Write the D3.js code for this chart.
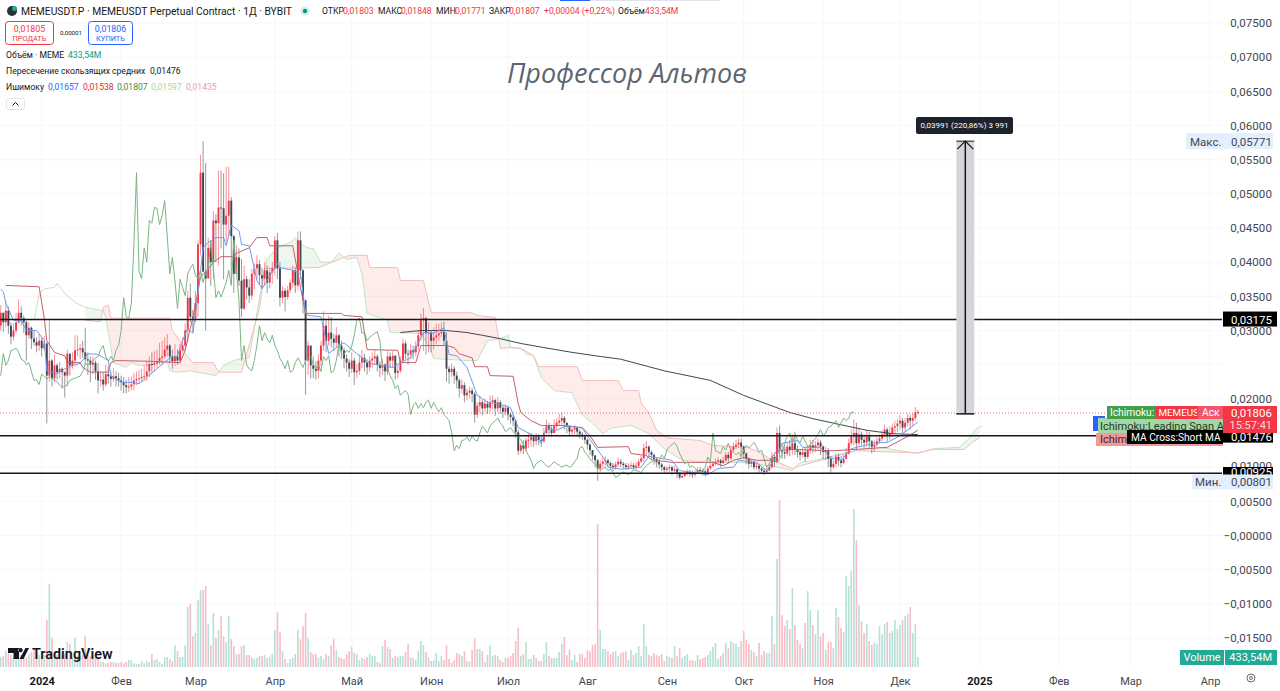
<!DOCTYPE html>
<html>
<head>
<meta charset="utf-8">
<script src="https://d3js.org/d3.v7.min.js"></script>
<style>
  html, body { margin: 0; padding: 0; background: #fff; }
  svg { display: block; }
  text { font-family: Roboto, "Noto Sans", sans-serif; }
</style>
</head>
<body>
<svg id="chart" width="1280" height="691"></svg>
<script>
// prices below are in units of 0.0001 USDT, one value per daily bar, first bar 16 Dec 2023
const priceUnit = 1e-4;
const firstDay = Date.UTC(2023, 11, 16);
const firstOpen = 307;

const closes = [
  326,312,329,307,291,300,312,326,318,312,
  293,304,288,283,278,285,274,281,234,256,
  230,249,239,244,239,234,266,249,256,271,
  272,274,268,258,256,250,253,240,227,228,
  221,236,233,229,233,230,227,225,220,217,
  218,221,227,229,230,232,233,240,251,250,
  252,255,260,262,272,278,262,255,262,256,
  271,278,300,348,320,318,340,426,531,386,
  376,421,400,461,457,480,479,455,468,490,
  438,383,407,373,332,375,363,351,383,391,
  397,381,376,388,370,385,391,432,391,348,
  358,349,359,370,388,366,432,388,344,256,
  278,249,244,241,256,278,307,285,297,288,
  282,293,278,271,259,253,244,256,239,241,
  253,260,253,246,256,259,262,250,245,250,
  240,262,256,263,238,241,256,281,266,265,
  271,268,277,293,315,318,296,297,285,290,
  293,296,298,285,244,239,244,234,227,215,
  220,205,209,212,207,177,190,195,186,193,
  187,195,198,186,195,187,181,187,177,173,
  168,151,124,132,127,139,140,144,138,145,
  140,138,150,160,155,150,160,165,168,172,
  165,160,152,155,158,152,148,145,140,133,
  125,117,110,98,105,108,110,106,102,100,
  104,108,105,103,100,102,103,100,102,108,
  113,128,130,122,118,112,108,104,100,96,
  98,100,95,97,92,85,87,90,93,91,
  89,92,96,95,94,92,98,102,105,108,
  110,106,110,118,113,125,130,133,136,130,
  120,112,105,108,100,102,98,95,93,95,
  100,115,108,150,124,122,120,130,125,135,
  125,122,118,122,115,125,132,128,132,136,
  130,122,125,112,100,105,115,110,106,112,
  120,135,145,150,135,148,140,136,145,138,
  130,133,138,142,148,155,146,150,158,160,
  164,168,158,165,172,168,172,180.3,180.7
];

const highs = [
  337,326,343,335,312,311,326,345,335,322,
  315,312,306,300,290,295,290,292,283,315,
  258,264,252,254,246,240,272,262,268,293,
  293,280,285,304,268,262,262,256,252,240,
  238,250,248,240,245,240,238,234,232,228,
  232,232,238,240,242,244,248,255,262,268,
  270,272,282,285,290,295,280,272,280,272,
  280,290,310,358,369,330,358,432,557,577,
  545,436,430,475,470,534,534,530,540,540,
  495,440,425,420,405,395,380,375,390,398,
  410,403,392,400,395,392,400,438,443,400,
  365,362,365,375,395,392,445,445,390,345,
  285,275,262,255,265,285,328,315,322,320,
  295,305,295,285,275,265,258,268,260,250,
  265,272,266,258,262,268,272,265,255,258,
  252,270,268,270,264,250,262,288,285,272,
  280,278,285,300,325,333,320,312,300,305,
  310,310,312,313,298,248,252,248,240,230,
  228,224,215,218,216,210,195,205,198,200,
  197,205,205,200,202,198,190,192,190,180,
  177,170,155,135,140,143,150,150,146,150,
  148,145,158,170,165,162,170,172,178,180,
  175,165,160,160,162,158,155,152,148,142,
  135,125,118,112,110,114,116,112,108,106,
  108,114,112,108,106,106,108,106,108,112,
  116,135,138,132,124,120,114,110,106,102,
  102,104,102,102,98,93,92,94,97,96,
  95,96,100,100,98,97,102,106,109,112,
  114,112,115,122,122,130,136,140,142,142,
  132,122,114,112,110,106,104,100,98,100,
  106,122,118,158,161,135,132,136,140,148,
  152,132,126,128,130,132,140,140,138,142,
  140,132,130,128,116,110,120,120,116,118,
  128,142,155,170,165,158,152,148,155,152,
  140,140,144,148,154,162,158,160,164,168,
  170,176,172,172,178,176,178,188,184.8
];

const lows = [
  300,298,305,295,280,285,296,310,307,296,
  256,288,273,278,268,270,262,270,164,225,
  218,225,228,230,215,202,218,234,244,250,
  262,258,260,250,235,224,236,228,208,218,
  212,218,222,218,225,218,218,212,208,208,
  210,212,212,220,222,224,226,226,232,238,
  240,245,250,250,258,262,252,244,248,250,
  252,268,270,283,312,297,312,320,410,400,
  300,385,365,375,400,395,420,375,430,440,
  375,355,390,365,320,330,345,340,345,360,
  375,368,362,365,355,362,368,380,375,335,
  340,328,345,355,362,355,360,375,325,206,
  235,230,230,228,230,248,270,268,278,275,
  270,275,262,258,245,240,232,238,220,230,
  235,245,240,235,240,245,250,240,232,235,
  226,235,245,245,228,230,238,255,258,250,
  258,258,262,272,285,270,265,268,268,272,
  280,285,290,278,225,222,232,222,215,202,
  208,195,198,200,195,165,172,180,176,180,
  178,180,185,175,180,178,172,176,168,164,
  160,143,118,120,119,123,128,130,130,132,
  132,130,135,148,148,144,150,155,160,162,
  155,150,145,145,148,145,142,140,134,126,
  118,110,100,80.1,92,100,102,100,96,94,
  96,100,100,98,96,96,98,96,96,100,
  106,108,118,115,112,104,100,98,94,90,
  90,92,88,90,84,82,84,86,88,86,
  84,86,90,90,88,86,90,96,100,102,
  102,100,104,108,106,110,122,126,128,118,
  112,104,98,100,96,96,92,90,88,90,
  94,98,100,108,115,112,112,116,116,118,
  118,114,110,114,108,112,120,120,122,126,
  118,112,110,100,92,98,100,102,100,104,
  112,118,132,132,125,130,132,128,130,128,
  120,122,130,134,138,144,136,140,146,150,
  152,155,148,152,160,155,160,168,177.1
];

// volume in millions
const volumes = [
  430,480,690,610,520,430,520,610,520,390,
  430,560,650,780,560,520,480,520,2040,3600,
  1260,480,520,430,520,560,1080,1000,430,1260,
  480,430,520,1340,520,480,520,480,390,220,
  220,170,170,220,220,170,170,220,170,220,
  300,300,170,130,130,260,170,260,220,560,
  300,350,220,130,430,430,350,260,950,690,
  430,430,950,2600,2730,1340,1470,2900,3340,3340,
  3510,1860,950,2340,1260,1600,2210,1340,1080,2210,
  1210,910,560,560,910,950,520,520,430,350,
  390,480,480,520,390,430,560,1600,2380,1520,
  690,350,170,350,390,560,1600,1210,1780,2340,
  1260,650,560,560,390,480,350,560,480,950,
  1210,740,430,390,350,560,690,870,610,560,
  300,390,350,430,560,480,480,220,170,910,
  1170,870,780,390,480,430,480,480,650,1000,
  430,390,300,690,1130,950,650,430,260,300,
  610,260,480,300,950,350,170,300,610,560,
  480,690,260,220,740,1210,780,780,690,220,
  520,950,480,520,480,300,220,390,390,480,
  610,1130,1690,480,560,1080,350,350,520,390,
  260,260,560,1080,480,390,390,390,650,1000,
  1300,520,740,300,520,220,560,560,390,740,
  690,950,1000,6200,1600,780,780,690,560,650,
  690,480,610,650,690,300,740,520,610,910,
  480,1860,910,520,480,610,520,480,560,260,
  480,430,390,910,480,820,390,480,560,300,
  300,260,520,350,390,430,520,690,870,1040,
  350,480,610,1040,820,1130,1040,1000,870,1130,
  1560,1170,1000,740,650,480,1040,520,690,610,
  610,2210,1000,4680,7240,2250,1780,2040,1650,3420,
  1820,1170,1000,820,1910,3290,2470,1820,1430,2470,
  1340,1470,740,1080,1080,820,2560,2170,1690,1520,
  3940,3510,4160,6850,5500,2690,1990,1470,1860,1130,
  950,1040,1000,1780,1430,1860,1950,1470,1560,2040,
  1650,1820,2040,2210,2300,2600,1470,1860,433.54
];

// indicator vertices: [bar number, value]
const tenkan = [[0,360],[1,357],[2,340],[5,315],[8,315],[10,300],[14,300],[17,285],[18,241],[22,237],[26,246],[31,252],[34,266],[38,265],[42,256],[43,234],[47,224],[52,224],[54,222],[61,244],[66,260],[69,263],[71,285],[73,303],[75,296],[77,354],[79,421],[81,429],[84,436],[87,436],[88,424],[90,454],[93,446],[94,426],[97,424],[100,373],[102,361],[108,398],[109,392],[114,388],[117,383],[119,326],[120,322],[125,320],[127,285],[128,266],[132,278],[134,282],[139,266],[144,252],[148,249],[153,246],[156,253],[160,260],[165,297],[169,296],[173,304],[175,265],[178,263],[182,246],[186,205],[190,195],[195,192],[199,187],[202,158],[208,146],[211,135],[213,158],[217,154],[221,161],[227,157],[231,135],[236,110],[237,100],[242,97],[250,100],[253,116],[262,110],[265,95],[276,89],[280,98],[286,100],[288,110],[295,107],[299,95],[303,117],[305,135],[311,139],[313,129],[320,129],[324,113],[328,110],[332,127],[342,136],[346,136],[351,146],[358,166]];
const kijun = [[2,366],[15,364],[17,318],[18,285],[21,268],[25,263],[26,253],[31,253],[32,246],[35,239],[42,239],[43,253],[45,256],[58,255],[70,253],[72,271],[75,319],[78,378],[82,395],[83,400],[86,408],[91,408],[92,413],[97,421],[100,436],[104,436],[105,424],[114,424],[117,363],[119,325],[133,325],[134,322],[141,320],[143,272],[155,271],[156,253],[162,253],[164,278],[174,278],[177,275],[179,266],[184,260],[185,247],[190,247],[191,234],[200,233],[202,193],[203,180],[207,168],[211,161],[219,161],[227,158],[230,146],[233,129],[245,130],[246,120],[252,117],[254,111],[262,107],[278,107],[282,102],[286,110],[290,114],[295,110],[300,110],[303,124],[309,126],[325,124],[346,129],[353,143],[358,154]];
const spanA = [[13,315],[15,354],[17,361],[21,363],[22,369],[25,354],[29,341],[33,334],[40,329],[41,319],[43,275],[44,253],[47,249],[49,246],[51,253],[54,249],[58,249],[65,256],[66,241],[69,239],[74,241],[84,234],[87,249],[91,256],[94,259],[97,260],[99,304],[101,348],[104,405],[108,421],[113,429],[115,435],[118,424],[121,420],[122,420],[125,400],[129,400],[132,413],[135,404],[139,407],[141,383],[143,325],[151,315],[152,297],[164,296],[168,271],[169,259],[182,256],[186,256],[190,285],[195,288],[198,293],[199,275],[203,274],[205,266],[208,263],[211,231],[216,212],[223,209],[227,176],[231,164],[235,149],[238,157],[246,161],[253,149],[259,127],[266,110],[277,107],[291,107],[303,100],[309,95],[312,107],[318,110],[333,124],[343,129],[358,120],[364,127],[374,129],[378,142],[381,157],[383,160]];
const spanB = [[33,315],[39,313],[40,334],[42,337],[43,318],[66,318],[67,300],[70,285],[72,266],[75,253],[83,253],[85,239],[94,239],[98,293],[101,332],[103,391],[124,392],[136,410],[143,410],[144,392],[155,392],[156,373],[165,373],[168,326],[184,326],[186,322],[193,319],[195,274],[199,275],[203,274],[208,263],[210,247],[225,247],[227,227],[241,227],[243,212],[249,212],[250,193],[253,180],[256,154],[260,143],[273,139],[278,132],[291,129],[295,124],[301,111],[309,98],[312,102],[334,124],[358,121],[364,126],[376,126],[379,136],[382,143]];
const longMA = [[156,297],[164,300],[174,300],[182,297],[188,293],[195,288],[203,281],[212,275],[223,268],[234,262],[242,258],[259,241],[277,227],[290,205],[308,180],[317,171],[328,162],[338,154],[348,149],[358,147.6]];

const lagDisplacement = 25;   // lagging span is the close moved back

const priceTicks = [0.075,0.07,0.065,0.06,0.055,0.05,0.045,0.04,0.035,0.03,0.02,0.005,0,-0.005,-0.01,-0.015];
const priceTickLabels = ["0,07500","0,07000","0,06500","0,06000","0,05500","0,05000","0,04500","0,04000","0,03500","0,03000","0,02000","0,00500","\u22120,00000","\u22120,00500","\u22120,01000","\u22120,01500"];
const levels = [0.03175, 0.01476, 0.00925];
const lastPrice = 0.01806;
const rulerFrom = 0.0178, rulerTo = 0.05771, rulerBars = [373, 376.5, 380];

const monthTicks = [[2024,0],[2024,1],[2024,2],[2024,3],[2024,4],[2024,5],[2024,6],[2024,7],[2024,8],[2024,9],[2024,10],[2024,11],[2025,0],[2025,1],[2025,2],[2025,3]]
  .map(d => new Date(Date.UTC(d[0], d[1], 1)));
const monthLabels = ["2024","Фев","Мар","Апр","Май","Июн","Июл","Авг","Сен","Окт","Ноя","Дек","2025","Фев","Мар","Апр"];

const svg = d3.select("#chart");
const plotRight = 1222, volumeBase = 667;

const xTime = d3.scaleUtc()
  .domain([new Date(Date.UTC(2024, 0, 1)), new Date(Date.UTC(2025, 0, 1))])
  .range([41.7, 979.4]);
const x = i => xTime(new Date(firstDay + i * 864e5));
const y = d3.scaleLinear().domain([-0.015, 0.075]).range([638, 23]);
const yUnits = v => y(v * priceUnit);
const yVolume = d3.scaleLinear().domain([0, 7240]).range([volumeBase, 500]);

const bars = closes.map((close, i) => {
  const open = i ? closes[i - 1] : firstOpen;
  return { i, open, close, high: Math.max(highs[i], open, close), low: Math.min(lows[i], open, close), volume: volumes[i], up: close >= open };
});

// grid
svg.append("g").selectAll("line").data(priceTicks.concat([0.025, 0.015, 0.01])).join("line")
  .attr("x1", 0).attr("x2", plotRight).attr("y1", d => y(d)).attr("y2", d => y(d))
  .attr("stroke", "#f6f7f9");
svg.append("g").selectAll("line").data(monthTicks).join("line")
  .attr("x1", d => xTime(d)).attr("x2", d => xTime(d)).attr("y1", 0).attr("y2", 667)
  .attr("stroke", "#f6f7f9");

// cloud: two areas between the spans, one per side
const lineAt = pts => d3.scaleLinear().domain(pts.map(d => d[0])).range(pts.map(d => d[1]));
const aAt = lineAt(spanA), bAt = lineAt(spanB);
const cloudDays = d3.range(spanB[0][0], spanB[spanB.length - 1][0] + 0.01, 0.25);
const greenArea = d3.area().x(x).y0(d => yUnits(bAt(d))).y1(d => yUnits(Math.max(aAt(d), bAt(d))));
const redArea = d3.area().x(x).y0(d => yUnits(aAt(d))).y1(d => yUnits(Math.max(aAt(d), bAt(d))));
svg.append("path").attr("d", greenArea(cloudDays)).attr("fill", "#4caf50").attr("opacity", 0.1);
svg.append("path").attr("d", redArea(cloudDays)).attr("fill", "#f44336").attr("opacity", 0.1);

const line = d3.line().x(d => x(d[0])).y(d => yUnits(d[1]));
svg.append("path").attr("d", line(spanA)).attr("fill", "none").attr("stroke", "#c3e2c5").attr("stroke-width", 1);
svg.append("path").attr("d", line(spanB)).attr("fill", "none").attr("stroke", "#f3bcbc").attr("stroke-width", 1);

// volume
svg.append("g").selectAll("rect").data(bars).join("rect")
  .attr("x", d => x(d.i) - 0.8)
  .attr("width", 1.6)
  .attr("y", d => yVolume(d.volume))
  .attr("height", d => volumeBase - yVolume(d.volume))
  .attr("fill", d => d.up ? "#b4e0d8" : "#f8bcc4");

// candles
const candleUp = "#f23645", candleDown = "#434651";
const candles = svg.append("g");
candles.selectAll("line").data(bars).join("line")
  .attr("x1", d => x(d.i)).attr("x2", d => x(d.i))
  .attr("y1", d => yUnits(d.high)).attr("y2", d => yUnits(d.low))
  .attr("stroke", d => d.up ? candleUp : candleDown)
  .attr("stroke-width", 1)
  .attr("stroke-opacity", 0.55);
candles.selectAll("rect").data(bars).join("rect")
  .attr("x", d => x(d.i) - 0.95)
  .attr("width", 1.9)
  .attr("y", d => yUnits(Math.max(d.open, d.close)))
  .attr("height", d => Math.max(1, yUnits(Math.min(d.open, d.close)) - yUnits(Math.max(d.open, d.close))))
  .attr("fill", d => d.up ? candleUp : candleDown);

// indicator lines
svg.append("path").attr("d", line(longMA)).attr("fill", "none").attr("stroke", "#434651").attr("stroke-width", 1);
svg.append("path").attr("d", line(kijun)).attr("fill", "none").attr("stroke", "#c0616a").attr("stroke-width", 1);
svg.append("path").attr("d", line(tenkan)).attr("fill", "none").attr("stroke", "#6f9bee").attr("stroke-width", 1);
const lagging = closes.slice(lagDisplacement).map((c, i) => [i, c]);
svg.append("path").attr("d", line(lagging)).attr("fill", "none").attr("stroke", "#7ab583").attr("stroke-width", 1);

// price lines
svg.append("line").attr("x1", 0).attr("x2", plotRight).attr("y1", y(lastPrice) + 1).attr("y2", y(lastPrice) + 1)
  .attr("stroke", "#f23645").attr("stroke-dasharray", "1 2").attr("stroke-opacity", 0.8);
svg.append("g").selectAll("line").data(levels).join("line")
  .attr("x1", 0).attr("x2", plotRight).attr("y1", d => y(d) + 1).attr("y2", d => y(d) + 1)
  .attr("stroke", "#131722").attr("stroke-width", 1.5);

// ruler
svg.append("rect").attr("x", x(rulerBars[0])).attr("width", x(rulerBars[2]) - x(rulerBars[0]))
  .attr("y", y(rulerTo)).attr("height", y(rulerFrom) - y(rulerTo)).attr("fill", "#d6d6d8");
svg.append("line").attr("x1", x(rulerBars[1])).attr("x2", x(rulerBars[1])).attr("y1", y(rulerFrom)).attr("y2", y(rulerTo))
  .attr("stroke", "#131722").attr("stroke-width", 1.5);
svg.append("line").attr("x1", x(rulerBars[0])).attr("x2", x(rulerBars[2])).attr("y1", y(rulerFrom)).attr("y2", y(rulerFrom))
  .attr("stroke", "#131722").attr("stroke-width", 1.5);
svg.append("line").attr("x1", x(rulerBars[0])).attr("x2", x(rulerBars[2])).attr("y1", y(rulerTo)).attr("y2", y(rulerTo))
  .attr("stroke", "#131722").attr("stroke-width", 1);
svg.append("path").attr("fill", "none").attr("stroke", "#131722").attr("stroke-width", 1.2)
  .attr("d", d3.line()([[x(rulerBars[0]) + 1, y(rulerTo) + 8], [x(rulerBars[1]), y(rulerTo)], [x(rulerBars[2]) - 1, y(rulerTo) + 8]]));

const text = (t, px, py, size, fill, opts = {}) => svg.append("text").text(t)
  .attr("x", px).attr("y", py).attr("font-size", size).attr("fill", fill)
  .attr("dominant-baseline", "central")
  .attr("text-anchor", opts.anchor || "start")
  .attr("font-weight", opts.weight || null)
  .attr("font-style", opts.style || null);
const box = (px, py, w, h, fill, rx = 0) => svg.append("rect")
  .attr("x", px).attr("y", py).attr("width", w).attr("height", h).attr("fill", fill).attr("rx", rx);

box(916, 117, 97, 17, "#1e222d", 2);
text("0,03991 (220,86%) 3 991", 964.5, 125.5, 8, "#fff", { anchor: "middle" });

// price axis
const axis = svg.append("g").attr("transform", `translate(${plotRight},0)`)
  .call(d3.axisRight(y).tickValues(priceTicks).tickSize(0).tickFormat((d, i) => priceTickLabels[i]));
axis.select(".domain").remove();
axis.selectAll("text").attr("x", 50).attr("text-anchor", "end").attr("font-size", 11.5).attr("fill", "#434651")
  .attr("font-family", "Roboto, sans-serif").attr("letter-spacing", 0.1);

// time axis
const timeAxis = svg.append("g").attr("transform", "translate(0,667)")
  .call(d3.axisBottom(xTime).tickValues(monthTicks).tickSize(0).tickFormat((d, i) => monthLabels[i]));
timeAxis.select(".domain").remove();
timeAxis.selectAll("text").attr("y", 10).attr("dy", "0.71em").attr("font-size", 11).attr("fill", "#434651")
  .attr("font-family", "Roboto, sans-serif")
  .attr("font-weight", (d, i) => /^20/.test(monthLabels[i]) ? 700 : 400)
  .attr("fill", (d, i) => /^20/.test(monthLabels[i]) ? "#131722" : "#434651");

// axis tags, back to front
box(1186, y(0.05771) - 8, 87, 16, "#e3effd");
text("Макс.", 1190, y(0.05771) + 1, 11.5, "#434651");
text("0,05771", 1272, y(0.05771) + 1, 11.5, "#434651", { anchor: "end" });

box(1093, 416, 12, 15, "#2962ff");
box(1098, 418, 125, 15, "#a5d6a7");
text("Ichimoku:Leading Span A", 1100, 426.5, 11, "#1f3d22");
box(1096, 433, 127, 13, "#ef9a9a");
text("Ichim", 1100, 439.5, 11, "#4a1a1a");
box(1107, 406, 49, 13, "#43a047");
text("Ichimoku:", 1110, 412.5, 10.2, "#fff");
box(1156, 406, 41, 13, "#f23645");
text("MEMEUS", 1158.5, 412.5, 9.8, "#fff");
box(1197, 406, 1, 13, "#5c6bc0");
box(1198, 406, 25, 13, "#f4556a");
text("Аск", 1202, 412.5, 10.2, "#fff");
box(1127, 430, 96, 14, "#000");
text("MA Cross:Short MA", 1131, 437.5, 10.2, "#fff");

box(1223, y(0.03175) - 7, 54, 15, "#000");
text("0,03175", 1272, y(0.03175) + 1, 11.5, "#fff", { anchor: "end" });
box(1223, y(0.01476) - 6, 50, 14, "#000");
text("0,01476", 1272, y(0.01476) + 2, 11.5, "#fff", { anchor: "end" });
box(1223, 406, 54, 27, "#f23645");
text("0,01806", 1272, 413, 11.5, "#fff", { anchor: "end" });
text("15:57:41", 1272, 425, 11, "#ffd7db", { anchor: "end" });
text("0,01000", 1272, 465.5, 11.5, "#434651", { anchor: "end" });
box(1223, 467, 50, 12, "#000");
text("0,00925", 1272, 472, 11.5, "#fff", { anchor: "end" });
box(1192, 474.5, 81, 15, "#e3effd");
text("Мин.", 1195, 482, 11.5, "#434651");
text("0,00801", 1272, 482, 11.5, "#434651", { anchor: "end" });

box(1180, 650, 44, 15, "#22ab94");
text("Volume", 1202, 657.5, 11, "#fff", { anchor: "middle" });
box(1225, 650, 52, 15, "#22ab94");
text("433,54M", 1272, 657.5, 11, "#fff", { anchor: "end" });

// settings glyph on the time axis
svg.append("circle").attr("cx", 1251).attr("cy", 678).attr("r", 4).attr("fill", "none").attr("stroke", "#6a6d78");
svg.append("circle").attr("cx", 1251).attr("cy", 678).attr("r", 1.5).attr("fill", "none").attr("stroke", "#6a6d78");

// watermark
text("Профессор Альтов", 507, 72, 27, "#5d6570", { style: "italic" }).style("font-family", "'Open Sans', sans-serif");

// header
box(560, 0, 30, 1, "#2962ff");
box(590, 0, 130, 1, "#e0e3eb");
svg.append("circle").attr("cx", 12).attr("cy", 11).attr("r", 5).attr("fill", "#2b2f36");
svg.append("circle").attr("cx", 14.5).attr("cy", 8.5).attr("r", 2.5).attr("fill", "#26a69a");
text("MEMEUSDT.P · MEMEUSDT Perpetual Contract · 1Д · BYBIT", 21, 11, 10.3, "#131722");
svg.append("circle").attr("cx", 305).attr("cy", 11).attr("r", 4.5).attr("fill", "#26a69a").attr("opacity", 0.2);
svg.append("circle").attr("cx", 305).attr("cy", 11).attr("r", 2.2).attr("fill", "#089981");

const ohlc = [
  [322, "ОТКР", "#131722"], [343, "0,01803", "#f23645"], [378, "МАКС", "#131722"], [401, "0,01848", "#f23645"],
  [436, "МИН", "#131722"], [455, "0,01771", "#f23645"], [489, "ЗАКР", "#131722"], [509, "0,01807", "#f23645"],
  [544, "+0,00004 (+0,22%)", "#f23645"], [618, "Объём", "#131722"], [645, "433,54M", "#f23645"]
];
ohlc.forEach(d => text(d[1], d[0], 11, 8.6, d[2]));

svg.append("rect").attr("x", 5.5).attr("y", 21.5).attr("width", 48).attr("height", 23).attr("rx", 3).attr("fill", "#fff").attr("stroke", "#f23645");
text("0,01805", 29.5, 28.5, 8.8, "#f23645", { anchor: "middle" });
text("ПРОДАТЬ", 29.5, 38, 7.4, "#f23645", { anchor: "middle" });
text("0,00001", 71, 33, 6.2, "#131722", { anchor: "middle" });
svg.append("rect").attr("x", 88.5).attr("y", 21.5).attr("width", 44).attr("height", 23).attr("rx", 3).attr("fill", "#fff").attr("stroke", "#2962ff");
text("0,01806", 110.5, 28.5, 8.8, "#2962ff", { anchor: "middle" });
text("КУПИТЬ", 110.5, 38, 7.4, "#2962ff", { anchor: "middle" });

text("Объём · MEME", 6, 55, 8.6, "#131722");
text("433,54M", 68, 55, 8.6, "#089981");
text("Пересечение скользящих средних", 6, 71, 8.6, "#131722");
text("0,01476", 150, 71, 8.6, "#131722");
text("Ишимоку", 6, 87, 8.6, "#131722");
const ichimokuValues = [[48, "0,01657", "#2962ff"], [83, "0,01538", "#d32f2f"], [117, "0,01807", "#388e3c"], [151, "0,01597", "#a5d6a7"], [186, "0,01435", "#ef9a9a"]];
ichimokuValues.forEach(d => text(d[1], d[0], 87, 8.6, d[2]));

svg.append("rect").attr("x", 6.5).attr("y", 98.5).attr("width", 18).attr("height", 11).attr("rx", 2).attr("fill", "#fff").attr("stroke", "#e0e3eb");
svg.append("path").attr("d", "M12.5 105.5l3-3 3 3").attr("fill", "none").attr("stroke", "#131722");

// TradingView mark
svg.append("path").attr("fill", "#131722")
  .attr("d", "M8 648h11v11h-5.5v-6H8zM25.5 648h3.5L23.5 659h-4zM20.5 648a2.2 2.2 0 1 0 .01 0z");
text("TradingView", 32, 654, 14.4, "#131722", { weight: 600 });
</script>
</body>
</html>
